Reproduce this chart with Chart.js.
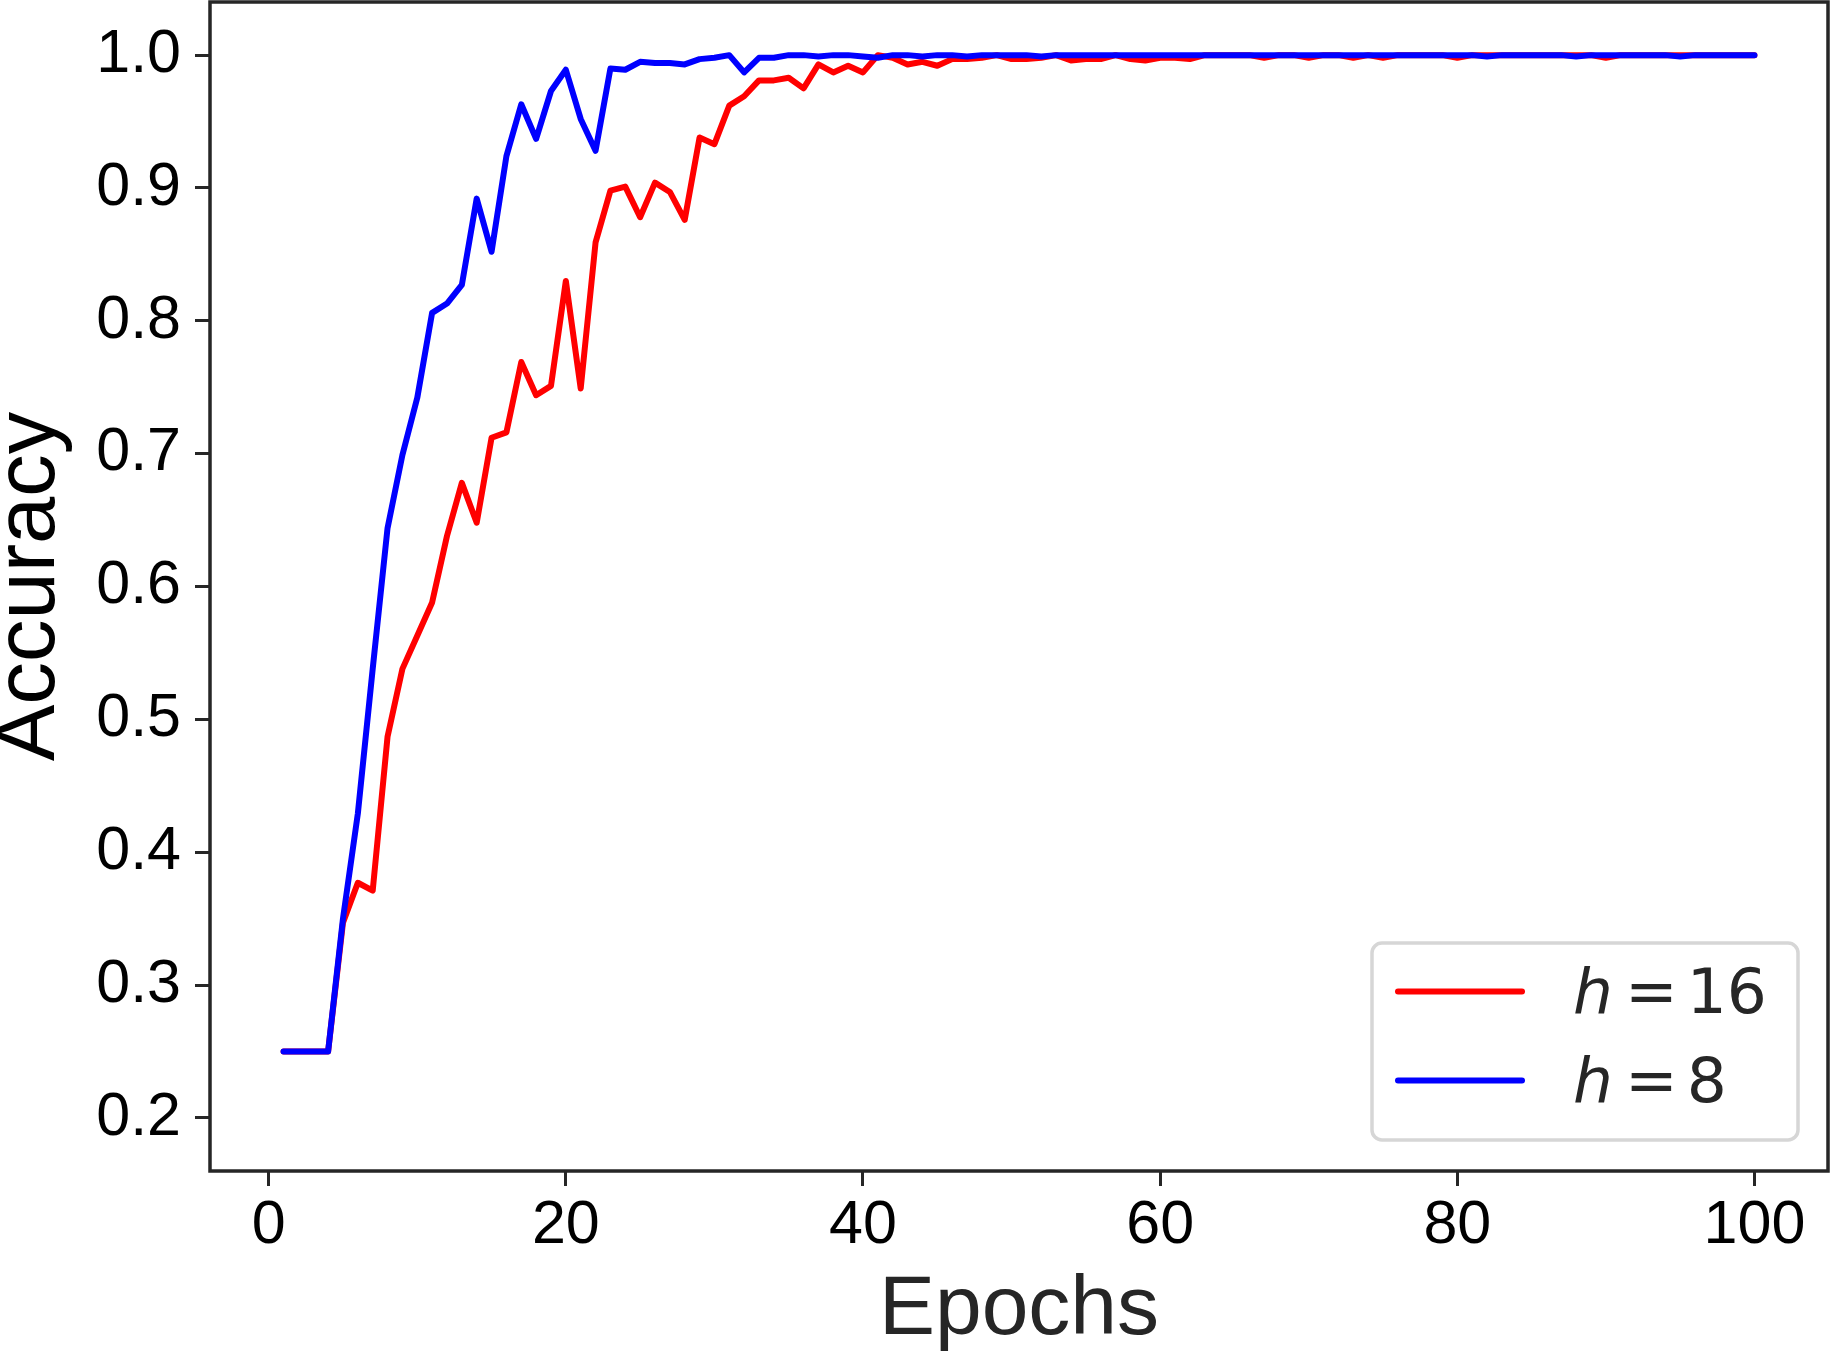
<!DOCTYPE html>
<html lang="en">
<head>
  <meta charset="UTF-8">
  <title>Accuracy vs Epochs</title>
  <script src="https://cdn.jsdelivr.net/npm/chart.js"></script>
  <style>
    html, body {
      margin: 0;
      padding: 0;
      background: #fff;
    }
    #wrap {
      width: 1831px;
      height: 1351px;
    }
  </style>
</head>
<body>
  <div id="wrap"><canvas id="accChart"></canvas></div>

  <script>
    // epoch index 1..100
    const epochs = Array.from({ length: 100 }, (_, i) => i + 1);

    const accH16 = [
      0.25, 0.25, 0.25, 0.25, 0.347, 0.377, 0.371, 0.487, 0.538, 0.563,
      0.588, 0.638, 0.678, 0.648, 0.712, 0.716, 0.769, 0.744, 0.751, 0.830,
      0.749, 0.859, 0.898, 0.901, 0.878, 0.904, 0.897, 0.876, 0.938, 0.933,
      0.962, 0.969, 0.981, 0.981, 0.983, 0.975, 0.993, 0.987, 0.992, 0.987,
      1.0, 0.998, 0.993, 0.995, 0.992, 0.997, 0.997, 0.998, 1.0, 0.997,
      0.997, 0.998, 1.0, 0.996, 0.997, 0.997, 1.0, 0.997, 0.996, 0.998,
      0.998, 0.997, 1.0, 1.0, 1.0, 1.0, 0.998, 1.0, 1.0, 0.998,
      1.0, 1.0, 0.998, 1.0, 0.998, 1.0, 1.0, 1.0, 1.0, 0.998,
      1.0, 1.0, 1.0, 1.0, 1.0, 1.0, 1.0, 1.0, 1.0, 0.998,
      1.0, 1.0, 1.0, 1.0, 1.0, 1.0, 1.0, 1.0, 1.0, 1.0
    ];

    const accH8 = [
      0.25, 0.25, 0.25, 0.25, 0.350, 0.429, 0.538, 0.644, 0.699, 0.742,
      0.806, 0.813, 0.827, 0.892, 0.852, 0.924, 0.963, 0.937, 0.973, 0.989,
      0.952, 0.928, 0.990, 0.989, 0.995, 0.994, 0.994, 0.993, 0.997, 0.998,
      1.0, 0.987, 0.998, 0.998, 1.0, 1.0, 0.999, 1.0, 1.0, 0.999,
      0.998, 1.0, 1.0, 0.999, 1.0, 1.0, 0.999, 1.0, 1.0, 1.0,
      1.0, 0.999, 1.0, 1.0, 1.0, 1.0, 1.0, 1.0, 1.0, 1.0,
      1.0, 1.0, 1.0, 1.0, 1.0, 1.0, 1.0, 1.0, 1.0, 1.0,
      1.0, 1.0, 1.0, 1.0, 1.0, 1.0, 1.0, 1.0, 1.0, 1.0,
      1.0, 0.999, 1.0, 1.0, 1.0, 1.0, 1.0, 0.999, 1.0, 1.0,
      1.0, 1.0, 1.0, 1.0, 0.999, 1.0, 1.0, 1.0, 1.0, 1.0
    ];

    const seriesNames = ['h = 16', 'h = 8'];
    const seriesColors = ['#ff0000', '#0000ff'];
    const xTicks = [0, 20, 40, 60, 80, 100];
    const yTicks = [0.2, 0.3, 0.4, 0.5, 0.6, 0.7, 0.8, 0.9, 1.0];

    const axisColor = '#262626';
    const sansFont = '"Liberation Sans", Arial, sans-serif';

    // box around the whole plot area (matplotlib spines)
    const framePlugin = {
      id: 'frame',
      afterDraw(chart) {
        const { ctx, chartArea: a } = chart;
        ctx.save();
        ctx.strokeStyle = axisColor;
        ctx.lineWidth = 3.5;
        ctx.strokeRect(a.left, a.top, a.right - a.left, a.bottom - a.top);
        ctx.restore();
      }
    };

    // legend with italic "h", drawn in the lower right corner
    function drawMathLabel(ctx, label, x, y) {
      const parts = label.split(' ');
      ctx.font = 'italic 63px "DejaVu Sans"';
      ctx.fillText(parts[0], x, y);
      x += ctx.measureText(parts[0]).width + 12;
      ctx.font = '63px "DejaVu Sans"';
      ctx.fillText(parts[1], x, y);
      x += ctx.measureText(parts[1]).width + 9;
      ctx.fillText(parts[2], x, y);
    }

    const legendPlugin = {
      id: 'cornerLegend',
      afterDraw(chart) {
        const { ctx, chartArea: a } = chart;
        const right = a.right - 30, bottom = a.bottom - 31;
        const left = right - 426, top = bottom - 197;
        ctx.save();
        ctx.fillStyle = 'rgba(255,255,255,0.8)';
        ctx.strokeStyle = '#d6d6d6';
        ctx.lineWidth = 3.5;
        ctx.beginPath();
        ctx.roundRect(left, top, right - left, bottom - top, 10);
        ctx.fill();
        ctx.stroke();

        ctx.textBaseline = 'alphabetic';
        ctx.textAlign = 'left';
        chart.data.datasets.forEach((ds, i) => {
          const rowY = top + 48.5 + i * 89;
          ctx.strokeStyle = ds.borderColor;
          ctx.lineWidth = 6;
          ctx.lineCap = 'round';
          ctx.beginPath();
          ctx.moveTo(left + 26, rowY);
          ctx.lineTo(left + 150, rowY);
          ctx.stroke();
          ctx.fillStyle = axisColor;
          drawMathLabel(ctx, ds.label, left + 201, rowY + 21);
        });
        ctx.restore();
      }
    };

    const ctx = document.getElementById('accChart').getContext('2d');
    const chart = new Chart(ctx, {
      type: 'line',
      data: {
        datasets: [
          {
            label: seriesNames[0],
            data: epochs.map((e, i) => ({ x: e, y: accH16[i] })),
            borderColor: seriesColors[0],
            order: 1
          },
          {
            label: seriesNames[1],
            data: epochs.map((e, i) => ({ x: e, y: accH8[i] })),
            borderColor: seriesColors[1],
            order: 0
          }
        ]
      },
      options: {
        responsive: true,
        maintainAspectRatio: false,
        animation: false,
        devicePixelRatio: 1,
        layout: { padding: { top: 2, right: 3, left: 0, bottom: 0 } },
        plugins: {
          legend: { display: false },
          tooltip: { enabled: false }
        },
        elements: {
          point: { radius: 0 },
          line: {
            borderWidth: 6,
            tension: 0,
            fill: false,
            borderCapStyle: 'round',
            borderJoinStyle: 'round'
          }
        },
        scales: {
          x: {
            type: 'linear',
            min: -3.95,
            max: 104.95,
            afterBuildTicks: s => { s.ticks = xTicks.map(v => ({ value: v })); },
            afterFit: s => {
              s.height = 180;
              s.paddingLeft = 0;
              s.paddingRight = 0;
            },
            border: { display: false },
            grid: {
              drawOnChartArea: false,
              drawTicks: true,
              tickLength: 15,
              tickWidth: 3,
              tickColor: axisColor
            },
            ticks: {
              autoSkip: false,
              maxRotation: 0,
              padding: 3.5,
              color: '#000',
              font: { family: sansFont, size: 61 },
              callback: v => String(v)
            },
            title: {
              display: true,
              text: 'Epochs',
              color: axisColor,
              padding: 0,
              font: { family: sansFont, size: 84, lineHeight: 0.952 }
            }
          },
          y: {
            type: 'linear',
            min: 0.16,
            max: 1.04,
            afterBuildTicks: s => { s.ticks = yTicks.map(v => ({ value: v })); },
            afterFit: s => {
              s.width = 210;
              s.paddingTop = 0;
              s.paddingBottom = 0;
            },
            border: { display: false },
            grid: {
              drawOnChartArea: false,
              drawTicks: true,
              tickLength: 15,
              tickWidth: 3,
              tickColor: axisColor
            },
            ticks: {
              padding: 14,
              color: '#000',
              font: { family: sansFont, size: 61 },
              callback: v => v.toFixed(1)
            },
            title: {
              display: true,
              text: 'Accuracy',
              color: '#000',
              padding: 0,
              font: { family: sansFont, size: 85, lineHeight: 0.73 }
            }
          }
        }
      },
      plugins: [framePlugin, legendPlugin]
    });
  </script>
</body>
</html>
